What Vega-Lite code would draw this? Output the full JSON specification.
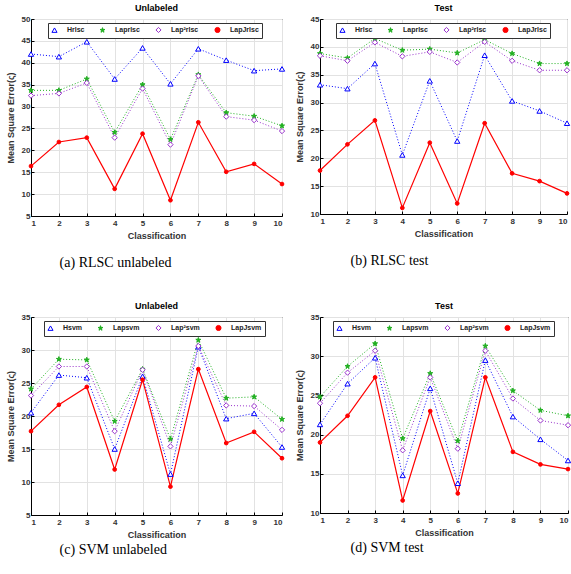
{
  "$schema": "https://vega.github.io/schema/vega-lite/v6.json",
  "padding": {"left": 5, "top": 3, "right": 2, "bottom": 0},
  "background": "white",
  "config": {
    "view": {"stroke": "black", "strokeWidth": 1},
    "font": "Liberation Sans",
    "axis": {
      "labelFont": "Liberation Sans", "labelFontWeight": "bold", "labelFontSize": 8, "labelColor": "#333",
      "titleFont": "Liberation Sans", "titleFontWeight": "bold", "titleFontSize": 9, "titleColor": "#333",
      "gridColor": "#e2e2e2", "domainColor": "black", "tickColor": "black", "tickSize": -3, "labelPadding": 4
    },
    "axisX": {"labelPadding": 6, "titlePadding": 4},
    "legend": {
      "orient": "none", "direction": "horizontal", "strokeColor": "#333", "fillColor": "white",
      "padding": 3, "labelFont": "Liberation Sans", "labelFontWeight": "bold", "labelFontSize": 7, "labelColor": "#222",
      "symbolSize": 26, "symbolStrokeWidth": 1, "columnPadding": 13, "labelOffset": 9
    },
    "title": {"font": "Liberation Sans", "fontWeight": "bold", "fontSize": 9, "offset": 2}
  },
  "datasets": {
    "all": [
      {"p":"a","s":"Hrlsc","x":1,"y":42},{"p":"a","s":"Hrlsc","x":2,"y":41.4},{"p":"a","s":"Hrlsc","x":3,"y":44.8},{"p":"a","s":"Hrlsc","x":4,"y":36.3},{"p":"a","s":"Hrlsc","x":5,"y":43.4},{"p":"a","s":"Hrlsc","x":6,"y":35.2},{"p":"a","s":"Hrlsc","x":7,"y":43.2},{"p":"a","s":"Hrlsc","x":8,"y":40.6},{"p":"a","s":"Hrlsc","x":9,"y":38.2},{"p":"a","s":"Hrlsc","x":10,"y":38.6},
      {"p":"a","s":"Laprlsc","x":1,"y":33.7},{"p":"a","s":"Laprlsc","x":2,"y":33.7},{"p":"a","s":"Laprlsc","x":3,"y":36.3},{"p":"a","s":"Laprlsc","x":4,"y":24.1},{"p":"a","s":"Laprlsc","x":5,"y":35},{"p":"a","s":"Laprlsc","x":6,"y":22.5},{"p":"a","s":"Laprlsc","x":7,"y":37.3},{"p":"a","s":"Laprlsc","x":8,"y":28.6},{"p":"a","s":"Laprlsc","x":9,"y":27.8},{"p":"a","s":"Laprlsc","x":10,"y":25.6},
      {"p":"a","s":"Lap²rlsc","x":1,"y":32.5},{"p":"a","s":"Lap²rlsc","x":2,"y":33},{"p":"a","s":"Lap²rlsc","x":3,"y":35.4},{"p":"a","s":"Lap²rlsc","x":4,"y":22.9},{"p":"a","s":"Lap²rlsc","x":5,"y":34.1},{"p":"a","s":"Lap²rlsc","x":6,"y":21.3},{"p":"a","s":"Lap²rlsc","x":7,"y":37},{"p":"a","s":"Lap²rlsc","x":8,"y":27.7},{"p":"a","s":"Lap²rlsc","x":9,"y":26.9},{"p":"a","s":"Lap²rlsc","x":10,"y":24.4},
      {"p":"a","s":"LapJrlsc","x":1,"y":16.4},{"p":"a","s":"LapJrlsc","x":2,"y":21.9},{"p":"a","s":"LapJrlsc","x":3,"y":22.9},{"p":"a","s":"LapJrlsc","x":4,"y":11.2},{"p":"a","s":"LapJrlsc","x":5,"y":23.8},{"p":"a","s":"LapJrlsc","x":6,"y":8.6},{"p":"a","s":"LapJrlsc","x":7,"y":26.4},{"p":"a","s":"LapJrlsc","x":8,"y":15.1},{"p":"a","s":"LapJrlsc","x":9,"y":16.9},{"p":"a","s":"LapJrlsc","x":10,"y":12.3},

      {"p":"b","s":"Hrlsc","x":1,"y":33.2},{"p":"b","s":"Hrlsc","x":2,"y":32.5},{"p":"b","s":"Hrlsc","x":3,"y":37},{"p":"b","s":"Hrlsc","x":4,"y":20.6},{"p":"b","s":"Hrlsc","x":5,"y":33.9},{"p":"b","s":"Hrlsc","x":6,"y":23.1},{"p":"b","s":"Hrlsc","x":7,"y":38.5},{"p":"b","s":"Hrlsc","x":8,"y":30.3},{"p":"b","s":"Hrlsc","x":9,"y":28.5},{"p":"b","s":"Hrlsc","x":10,"y":26.3},
      {"p":"b","s":"Laprlsc","x":1,"y":38.8},{"p":"b","s":"Laprlsc","x":2,"y":38},{"p":"b","s":"Laprlsc","x":3,"y":41.5},{"p":"b","s":"Laprlsc","x":4,"y":39.4},{"p":"b","s":"Laprlsc","x":5,"y":39.6},{"p":"b","s":"Laprlsc","x":6,"y":38.9},{"p":"b","s":"Laprlsc","x":7,"y":41.3},{"p":"b","s":"Laprlsc","x":8,"y":38.8},{"p":"b","s":"Laprlsc","x":9,"y":37},{"p":"b","s":"Laprlsc","x":10,"y":37},
      {"p":"b","s":"Lap²rlsc","x":1,"y":38.4},{"p":"b","s":"Lap²rlsc","x":2,"y":37.5},{"p":"b","s":"Lap²rlsc","x":3,"y":40.8},{"p":"b","s":"Lap²rlsc","x":4,"y":38.3},{"p":"b","s":"Lap²rlsc","x":5,"y":39.1},{"p":"b","s":"Lap²rlsc","x":6,"y":37.2},{"p":"b","s":"Lap²rlsc","x":7,"y":40.9},{"p":"b","s":"Lap²rlsc","x":8,"y":37.5},{"p":"b","s":"Lap²rlsc","x":9,"y":35.8},{"p":"b","s":"Lap²rlsc","x":10,"y":35.8},
      {"p":"b","s":"LapJrlsc","x":1,"y":17.8},{"p":"b","s":"LapJrlsc","x":2,"y":22.5},{"p":"b","s":"LapJrlsc","x":3,"y":26.8},{"p":"b","s":"LapJrlsc","x":4,"y":11.1},{"p":"b","s":"LapJrlsc","x":5,"y":22.8},{"p":"b","s":"LapJrlsc","x":6,"y":11.9},{"p":"b","s":"LapJrlsc","x":7,"y":26.3},{"p":"b","s":"LapJrlsc","x":8,"y":17.3},{"p":"b","s":"LapJrlsc","x":9,"y":15.9},{"p":"b","s":"LapJrlsc","x":10,"y":13.7},

      {"p":"c","s":"Hsvm","x":1,"y":20.5},{"p":"c","s":"Hsvm","x":2,"y":26.2},{"p":"c","s":"Hsvm","x":3,"y":25.8},{"p":"c","s":"Hsvm","x":4,"y":15},{"p":"c","s":"Hsvm","x":5,"y":26},{"p":"c","s":"Hsvm","x":6,"y":11.2},{"p":"c","s":"Hsvm","x":7,"y":30.5},{"p":"c","s":"Hsvm","x":8,"y":19.6},{"p":"c","s":"Hsvm","x":9,"y":20.4},{"p":"c","s":"Hsvm","x":10,"y":15.3},
      {"p":"c","s":"Lapsvm","x":1,"y":24.1},{"p":"c","s":"Lapsvm","x":2,"y":28.6},{"p":"c","s":"Lapsvm","x":3,"y":28.5},{"p":"c","s":"Lapsvm","x":4,"y":19.2},{"p":"c","s":"Lapsvm","x":5,"y":27.1},{"p":"c","s":"Lapsvm","x":6,"y":16.5},{"p":"c","s":"Lapsvm","x":7,"y":31.5},{"p":"c","s":"Lapsvm","x":8,"y":22.7},{"p":"c","s":"Lapsvm","x":9,"y":22.9},{"p":"c","s":"Lapsvm","x":10,"y":19.5},
      {"p":"c","s":"Lap²svm","x":1,"y":23.1},{"p":"c","s":"Lap²svm","x":2,"y":27.5},{"p":"c","s":"Lap²svm","x":3,"y":27.5},{"p":"c","s":"Lap²svm","x":4,"y":17.7},{"p":"c","s":"Lap²svm","x":5,"y":27},{"p":"c","s":"Lap²svm","x":6,"y":15.4},{"p":"c","s":"Lap²svm","x":7,"y":30.6},{"p":"c","s":"Lap²svm","x":8,"y":21.6},{"p":"c","s":"Lap²svm","x":9,"y":21.5},{"p":"c","s":"Lap²svm","x":10,"y":17.9},
      {"p":"c","s":"LapJsvm","x":1,"y":17.7},{"p":"c","s":"LapJsvm","x":2,"y":21.7},{"p":"c","s":"LapJsvm","x":3,"y":24.4},{"p":"c","s":"LapJsvm","x":4,"y":11.9},{"p":"c","s":"LapJsvm","x":5,"y":25.5},{"p":"c","s":"LapJsvm","x":6,"y":9.3},{"p":"c","s":"LapJsvm","x":7,"y":27.1},{"p":"c","s":"LapJsvm","x":8,"y":15.9},{"p":"c","s":"LapJsvm","x":9,"y":17.6},{"p":"c","s":"LapJsvm","x":10,"y":13.6},

      {"p":"d","s":"Hsvm","x":1,"y":21.3},{"p":"d","s":"Hsvm","x":2,"y":26.5},{"p":"d","s":"Hsvm","x":3,"y":29.8},{"p":"d","s":"Hsvm","x":4,"y":14.8},{"p":"d","s":"Hsvm","x":5,"y":25.9},{"p":"d","s":"Hsvm","x":6,"y":13.8},{"p":"d","s":"Hsvm","x":7,"y":29.5},{"p":"d","s":"Hsvm","x":8,"y":22.3},{"p":"d","s":"Hsvm","x":9,"y":19.4},{"p":"d","s":"Hsvm","x":10,"y":16.7},
      {"p":"d","s":"Lapsvm","x":1,"y":24.8},{"p":"d","s":"Lapsvm","x":2,"y":28.7},{"p":"d","s":"Lapsvm","x":3,"y":31.6},{"p":"d","s":"Lapsvm","x":4,"y":19.5},{"p":"d","s":"Lapsvm","x":5,"y":27.8},{"p":"d","s":"Lapsvm","x":6,"y":19.2},{"p":"d","s":"Lapsvm","x":7,"y":31.3},{"p":"d","s":"Lapsvm","x":8,"y":25.6},{"p":"d","s":"Lapsvm","x":9,"y":23.1},{"p":"d","s":"Lapsvm","x":10,"y":22.4},
      {"p":"d","s":"Lap²svm","x":1,"y":24},{"p":"d","s":"Lap²svm","x":2,"y":27.9},{"p":"d","s":"Lap²svm","x":3,"y":30.7},{"p":"d","s":"Lap²svm","x":4,"y":18},{"p":"d","s":"Lap²svm","x":5,"y":27.3},{"p":"d","s":"Lap²svm","x":6,"y":18.2},{"p":"d","s":"Lap²svm","x":7,"y":30.7},{"p":"d","s":"Lap²svm","x":8,"y":24.6},{"p":"d","s":"Lap²svm","x":9,"y":21.8},{"p":"d","s":"Lap²svm","x":10,"y":21.2},
      {"p":"d","s":"LapJsvm","x":1,"y":19},{"p":"d","s":"LapJsvm","x":2,"y":22.4},{"p":"d","s":"LapJsvm","x":3,"y":27.3},{"p":"d","s":"LapJsvm","x":4,"y":11.6},{"p":"d","s":"LapJsvm","x":5,"y":23},{"p":"d","s":"LapJsvm","x":6,"y":12.5},{"p":"d","s":"LapJsvm","x":7,"y":27.3},{"p":"d","s":"LapJsvm","x":8,"y":17.8},{"p":"d","s":"LapJsvm","x":9,"y":16.2},{"p":"d","s":"LapJsvm","x":10,"y":15.6}
    ]
  },
  "spacing": 31,
  "resolve": {
    "scale": {"stroke": "independent", "fill": "independent", "shape": "independent", "y": "independent"},
    "legend": {"stroke": "independent", "fill": "independent", "shape": "independent"}
  },
  "vconcat": [
    {
      "spacing": 6,
      "resolve": {
        "scale": {"stroke": "independent", "fill": "independent", "shape": "independent", "y": "independent"},
        "legend": {"stroke": "independent", "fill": "independent", "shape": "independent"}
      },
      "hconcat": [
        {
          "title": {"text": "(a) RLSC unlabeled", "orient": "bottom", "anchor": "start", "dx": 54, "font": "Liberation Serif", "fontWeight": "normal", "fontSize": 14, "offset": 15, "color": "black"},
          "vconcat": [{
            "width": 251, "height": 197,
            "title": {"text": "Unlabeled"},
            "data": {"name": "all"},
            "transform": [{"filter": "datum.p === 'a'"}],
            "encoding": {
              "x": {"field": "x", "type": "quantitative", "scale": {"domain": [1, 10]}, "axis": {"values": [1,2,3,4,5,6,7,8,9,10], "title": "Classification"}},
              "y": {"field": "y", "type": "quantitative", "scale": {"domain": [5, 50]}, "axis": {"values": [5,10,15,20,25,30,35,40,45,50], "title": "Mean Square Error(ς)", "titlePadding": 6}},
              "stroke": {"field": "s", "type": "nominal", "scale": {"domain": ["Hrlsc","Laprlsc","Lap²rlsc","LapJrlsc"], "range": ["#0000ff","#22b022","#9933cc","#ff0000"]}, "legend": {"title": null, "orient": "none", "legendX": 17, "legendY": 4}}
            },
            "layer": [
              {"transform": [{"filter": "indexof(datum.s, 'LapJ') < 0"}], "mark": {"type": "line", "strokeWidth": 1, "strokeDash": [1, 2]}},
              {"transform": [{"filter": "indexof(datum.s, 'LapJ') >= 0"}], "mark": {"type": "line", "strokeWidth": 1.2}},
              {"transform": [{"filter": "indexof(datum.s, 'LapJ') < 0"}], "mark": {"type": "point", "size": 28, "strokeWidth": 1, "opacity": 1, "filled": false}, "encoding": {
                "shape": {"field": "s", "type": "nominal", "scale": {"domain": ["Hrlsc","Laprlsc","Lap²rlsc","LapJrlsc"], "range": ["triangle-up","M0,-1L0.2245,-0.309L0.951,-0.309L0.363,0.118L0.588,0.809L0,0.382L-0.588,0.809L-0.363,0.118L-0.951,-0.309L-0.2245,-0.309Z","diamond","circle"]}, "legend": {"title": null, "orient": "none", "legendX": 17, "legendY": 4}},
                "fill": {"field": "s", "type": "nominal", "scale": {"domain": ["Hrlsc","Laprlsc","Lap²rlsc","LapJrlsc"], "range": ["white","#22b022","white","#ff0000"]}, "legend": {"title": null, "orient": "none", "legendX": 17, "legendY": 4}}}},
              {"transform": [{"filter": "indexof(datum.s, 'LapJ') >= 0"}], "mark": {"type": "point", "size": 14, "strokeWidth": 1, "opacity": 1, "filled": false}, "encoding": {
                "shape": {"field": "s", "type": "nominal", "scale": {"domain": ["Hrlsc","Laprlsc","Lap²rlsc","LapJrlsc"], "range": ["triangle-up","M0,-1L0.2245,-0.309L0.951,-0.309L0.363,0.118L0.588,0.809L0,0.382L-0.588,0.809L-0.363,0.118L-0.951,-0.309L-0.2245,-0.309Z","diamond","circle"]}, "legend": {"title": null, "orient": "none", "legendX": 17, "legendY": 4}},
                "fill": {"field": "s", "type": "nominal", "scale": {"domain": ["Hrlsc","Laprlsc","Lap²rlsc","LapJrlsc"], "range": ["white","#22b022","white","#ff0000"]}, "legend": {"title": null, "orient": "none", "legendX": 17, "legendY": 4}}}}
            ]
          }]
        },
        {
          "title": {"text": "(b) RLSC test", "orient": "bottom", "anchor": "start", "dx": 56, "font": "Liberation Serif", "fontWeight": "normal", "fontSize": 14, "offset": 15, "color": "black"},
          "vconcat": [{
            "width": 247, "height": 195,
            "title": {"text": "Test"},
            "data": {"name": "all"},
            "transform": [{"filter": "datum.p === 'b'"}],
            "encoding": {
              "x": {"field": "x", "type": "quantitative", "scale": {"domain": [1, 10]}, "axis": {"values": [1,2,3,4,5,6,7,8,9,10], "title": "Classification"}},
              "y": {"field": "y", "type": "quantitative", "scale": {"domain": [10, 45]}, "axis": {"values": [10,15,20,25,30,35,40,45], "title": "Mean Square Error(ς)", "titlePadding": 6}},
              "stroke": {"field": "s", "type": "nominal", "scale": {"domain": ["Hrlsc","Laprlsc","Lap²rlsc","LapJrlsc"], "range": ["#0000ff","#22b022","#9933cc","#ff0000"]}, "legend": {"title": null, "orient": "none", "legendX": 16, "legendY": 4}}
            },
            "layer": [
              {"transform": [{"filter": "indexof(datum.s, 'LapJ') < 0"}], "mark": {"type": "line", "strokeWidth": 1, "strokeDash": [1, 2]}},
              {"transform": [{"filter": "indexof(datum.s, 'LapJ') >= 0"}], "mark": {"type": "line", "strokeWidth": 1.2}},
              {"transform": [{"filter": "indexof(datum.s, 'LapJ') < 0"}], "mark": {"type": "point", "size": 28, "strokeWidth": 1, "opacity": 1, "filled": false}, "encoding": {
                "shape": {"field": "s", "type": "nominal", "scale": {"domain": ["Hrlsc","Laprlsc","Lap²rlsc","LapJrlsc"], "range": ["triangle-up","M0,-1L0.2245,-0.309L0.951,-0.309L0.363,0.118L0.588,0.809L0,0.382L-0.588,0.809L-0.363,0.118L-0.951,-0.309L-0.2245,-0.309Z","diamond","circle"]}, "legend": {"title": null, "orient": "none", "legendX": 16, "legendY": 4}},
                "fill": {"field": "s", "type": "nominal", "scale": {"domain": ["Hrlsc","Laprlsc","Lap²rlsc","LapJrlsc"], "range": ["white","#22b022","white","#ff0000"]}, "legend": {"title": null, "orient": "none", "legendX": 16, "legendY": 4}}}},
              {"transform": [{"filter": "indexof(datum.s, 'LapJ') >= 0"}], "mark": {"type": "point", "size": 14, "strokeWidth": 1, "opacity": 1, "filled": false}, "encoding": {
                "shape": {"field": "s", "type": "nominal", "scale": {"domain": ["Hrlsc","Laprlsc","Lap²rlsc","LapJrlsc"], "range": ["triangle-up","M0,-1L0.2245,-0.309L0.951,-0.309L0.363,0.118L0.588,0.809L0,0.382L-0.588,0.809L-0.363,0.118L-0.951,-0.309L-0.2245,-0.309Z","diamond","circle"]}, "legend": {"title": null, "orient": "none", "legendX": 16, "legendY": 4}},
                "fill": {"field": "s", "type": "nominal", "scale": {"domain": ["Hrlsc","Laprlsc","Lap²rlsc","LapJrlsc"], "range": ["white","#22b022","white","#ff0000"]}, "legend": {"title": null, "orient": "none", "legendX": 16, "legendY": 4}}}}
            ]
          }]
        }
      ]
    },
    {
      "spacing": 6,
      "resolve": {
        "scale": {"stroke": "independent", "fill": "independent", "shape": "independent", "y": "independent"},
        "legend": {"stroke": "independent", "fill": "independent", "shape": "independent"}
      },
      "hconcat": [
        {
          "title": {"text": "(c) SVM unlabeled", "orient": "bottom", "anchor": "start", "dx": 54, "font": "Liberation Serif", "fontWeight": "normal", "fontSize": 14, "offset": 3, "color": "black"},
          "vconcat": [{
            "width": 251, "height": 198,
            "title": {"text": "Unlabeled"},
            "data": {"name": "all"},
            "transform": [{"filter": "datum.p === 'c'"}],
            "encoding": {
              "x": {"field": "x", "type": "quantitative", "scale": {"domain": [1, 10]}, "axis": {"values": [1,2,3,4,5,6,7,8,9,10], "title": "Classification"}},
              "y": {"field": "y", "type": "quantitative", "scale": {"domain": [5, 35]}, "axis": {"values": [5,10,15,20,25,30,35], "title": "Mean Square Error(ς)", "titlePadding": 6}},
              "stroke": {"field": "s", "type": "nominal", "scale": {"domain": ["Hsvm","Lapsvm","Lap²svm","LapJsvm"], "range": ["#0000ff","#22b022","#9933cc","#ff0000"]}, "legend": {"title": null, "orient": "none", "legendX": 13, "legendY": 4}}
            },
            "layer": [
              {"transform": [{"filter": "indexof(datum.s, 'LapJ') < 0"}], "mark": {"type": "line", "strokeWidth": 1, "strokeDash": [1, 2]}},
              {"transform": [{"filter": "indexof(datum.s, 'LapJ') >= 0"}], "mark": {"type": "line", "strokeWidth": 1.2}},
              {"transform": [{"filter": "indexof(datum.s, 'LapJ') < 0"}], "mark": {"type": "point", "size": 28, "strokeWidth": 1, "opacity": 1, "filled": false}, "encoding": {
                "shape": {"field": "s", "type": "nominal", "scale": {"domain": ["Hsvm","Lapsvm","Lap²svm","LapJsvm"], "range": ["triangle-up","M0,-1L0.2245,-0.309L0.951,-0.309L0.363,0.118L0.588,0.809L0,0.382L-0.588,0.809L-0.363,0.118L-0.951,-0.309L-0.2245,-0.309Z","diamond","circle"]}, "legend": {"title": null, "orient": "none", "legendX": 13, "legendY": 4}},
                "fill": {"field": "s", "type": "nominal", "scale": {"domain": ["Hsvm","Lapsvm","Lap²svm","LapJsvm"], "range": ["white","#22b022","white","#ff0000"]}, "legend": {"title": null, "orient": "none", "legendX": 13, "legendY": 4}}}},
              {"transform": [{"filter": "indexof(datum.s, 'LapJ') >= 0"}], "mark": {"type": "point", "size": 14, "strokeWidth": 1, "opacity": 1, "filled": false}, "encoding": {
                "shape": {"field": "s", "type": "nominal", "scale": {"domain": ["Hsvm","Lapsvm","Lap²svm","LapJsvm"], "range": ["triangle-up","M0,-1L0.2245,-0.309L0.951,-0.309L0.363,0.118L0.588,0.809L0,0.382L-0.588,0.809L-0.363,0.118L-0.951,-0.309L-0.2245,-0.309Z","diamond","circle"]}, "legend": {"title": null, "orient": "none", "legendX": 13, "legendY": 4}},
                "fill": {"field": "s", "type": "nominal", "scale": {"domain": ["Hsvm","Lapsvm","Lap²svm","LapJsvm"], "range": ["white","#22b022","white","#ff0000"]}, "legend": {"title": null, "orient": "none", "legendX": 13, "legendY": 4}}}}
            ]
          }]
        },
        {
          "title": {"text": "(d) SVM test", "orient": "bottom", "anchor": "start", "dx": 56, "font": "Liberation Serif", "fontWeight": "normal", "fontSize": 14, "offset": 3, "color": "black"},
          "vconcat": [{
            "width": 248, "height": 196,
            "title": {"text": "Test"},
            "data": {"name": "all"},
            "transform": [{"filter": "datum.p === 'd'"}],
            "encoding": {
              "x": {"field": "x", "type": "quantitative", "scale": {"domain": [1, 10]}, "axis": {"values": [1,2,3,4,5,6,7,8,9,10], "title": "Classification"}},
              "y": {"field": "y", "type": "quantitative", "scale": {"domain": [10, 35]}, "axis": {"values": [10,15,20,25,30,35], "title": "Mean Square Error(ς)", "titlePadding": 6}},
              "stroke": {"field": "s", "type": "nominal", "scale": {"domain": ["Hsvm","Lapsvm","Lap²svm","LapJsvm"], "range": ["#0000ff","#22b022","#9933cc","#ff0000"]}, "legend": {"title": null, "orient": "none", "legendX": 13, "legendY": 4}}
            },
            "layer": [
              {"transform": [{"filter": "indexof(datum.s, 'LapJ') < 0"}], "mark": {"type": "line", "strokeWidth": 1, "strokeDash": [1, 2]}},
              {"transform": [{"filter": "indexof(datum.s, 'LapJ') >= 0"}], "mark": {"type": "line", "strokeWidth": 1.2}},
              {"transform": [{"filter": "indexof(datum.s, 'LapJ') < 0"}], "mark": {"type": "point", "size": 28, "strokeWidth": 1, "opacity": 1, "filled": false}, "encoding": {
                "shape": {"field": "s", "type": "nominal", "scale": {"domain": ["Hsvm","Lapsvm","Lap²svm","LapJsvm"], "range": ["triangle-up","M0,-1L0.2245,-0.309L0.951,-0.309L0.363,0.118L0.588,0.809L0,0.382L-0.588,0.809L-0.363,0.118L-0.951,-0.309L-0.2245,-0.309Z","diamond","circle"]}, "legend": {"title": null, "orient": "none", "legendX": 13, "legendY": 4}},
                "fill": {"field": "s", "type": "nominal", "scale": {"domain": ["Hsvm","Lapsvm","Lap²svm","LapJsvm"], "range": ["white","#22b022","white","#ff0000"]}, "legend": {"title": null, "orient": "none", "legendX": 13, "legendY": 4}}}},
              {"transform": [{"filter": "indexof(datum.s, 'LapJ') >= 0"}], "mark": {"type": "point", "size": 14, "strokeWidth": 1, "opacity": 1, "filled": false}, "encoding": {
                "shape": {"field": "s", "type": "nominal", "scale": {"domain": ["Hsvm","Lapsvm","Lap²svm","LapJsvm"], "range": ["triangle-up","M0,-1L0.2245,-0.309L0.951,-0.309L0.363,0.118L0.588,0.809L0,0.382L-0.588,0.809L-0.363,0.118L-0.951,-0.309L-0.2245,-0.309Z","diamond","circle"]}, "legend": {"title": null, "orient": "none", "legendX": 13, "legendY": 4}},
                "fill": {"field": "s", "type": "nominal", "scale": {"domain": ["Hsvm","Lapsvm","Lap²svm","LapJsvm"], "range": ["white","#22b022","white","#ff0000"]}, "legend": {"title": null, "orient": "none", "legendX": 13, "legendY": 4}}}}
            ]
          }]
        }
      ]
    }
  ]
}
